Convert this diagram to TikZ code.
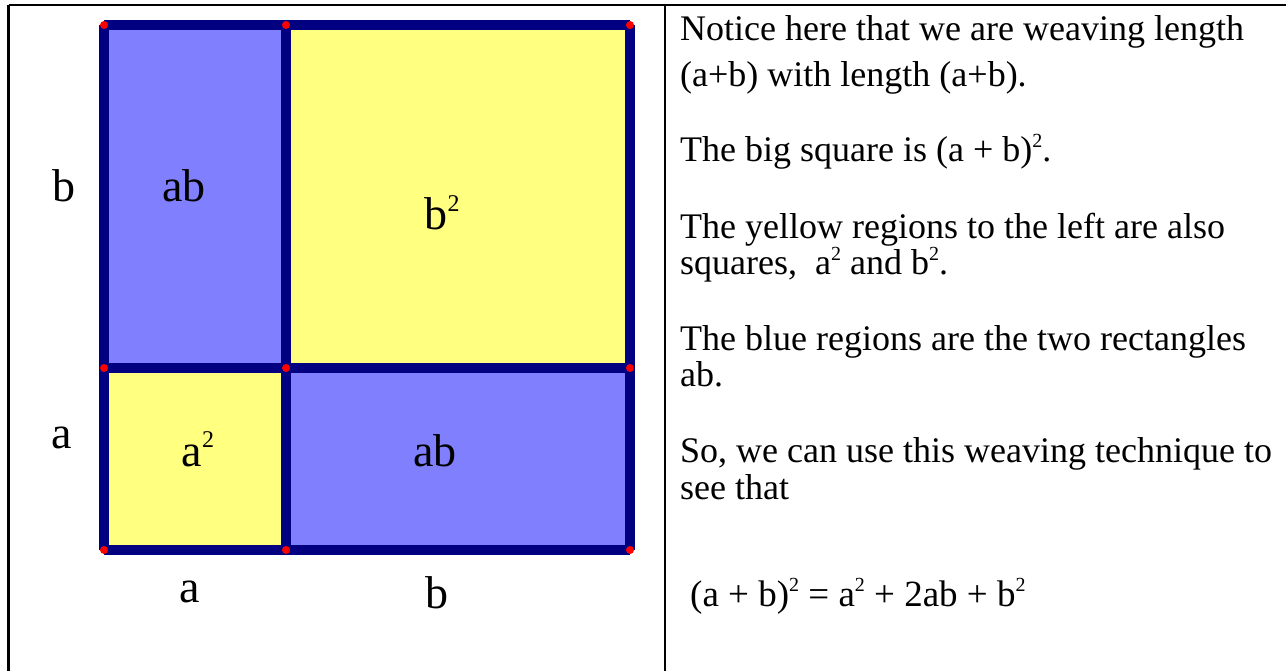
\documentclass[tikz,border=0pt]{standalone}
\usepackage{fontspec}
\setmainfont{Liberation Serif}
\definecolor{navyc}{HTML}{000080}
\definecolor{bluef}{HTML}{8080FF}
\definecolor{yellowf}{HTML}{FFFF80}
\newcommand{\lsq}{\raisebox{0.40em}{\fontsize{24}{24}\selectfont 2}}
\newcommand{\tsq}{\raisebox{0.40em}{\fontsize{20}{20}\selectfont 2}}
\begin{document}
\begin{tikzpicture}[x=1pt,y=-1pt,
  edge/.style={line width=10pt, draw=navyc},
  tbl/.style={line width=2.5pt, draw=black},
  lab/.style={font=\fontsize{46}{46}\selectfont, anchor=base, inner sep=0pt},
  txt/.style={font=\fontsize{36}{36}\selectfont, anchor=base west, inner sep=0pt},
  eqn/.style={font=\fontsize{37}{37}\selectfont, anchor=base west, inner sep=0pt},
  dotm/.style={circle, fill=red, draw=none, inner sep=0pt, minimum size=8pt}]
\useasboundingbox (0,0) rectangle (1286,671);
% table frame
\coordinate (tl) at (8.5,5);
\coordinate (tr) at (1286,5);
\coordinate (bl) at (8.5,671);
\coordinate (tm) at (665,5);
\coordinate (bm) at (665,671);
\draw[tbl] (tl) -- (tr);
\draw[tbl] (tl) -- (bl);
\draw[tbl] (tm) -- (bm);
% grid coordinates
\coordinate (p11) at (104,25);  \coordinate (p12) at (286,25);  \coordinate (p13) at (630,25);
\coordinate (p21) at (104,368); \coordinate (p22) at (286,368); \coordinate (p23) at (630,368);
\coordinate (p31) at (104,550); \coordinate (p32) at (286,550); \coordinate (p33) at (630,550);
% fills
\fill[bluef] (p11) rectangle (p22);
\fill[yellowf] (p12) rectangle (p23);
\fill[yellowf] (p21) rectangle (p32);
\fill[bluef] (p22) rectangle (p33);
% edges
\draw[edge] (p11) -- (p12);
\draw[edge] (p12) -- (p13);
\draw[edge] (p21) -- (p22);
\draw[edge] (p22) -- (p23);
\draw[edge] (p31) -- (p32);
\draw[edge] (p32) -- (p33);
\draw[edge] (p11) -- (p21);
\draw[edge] (p21) -- (p31);
\draw[edge] (p12) -- (p22);
\draw[edge] (p22) -- (p32);
\draw[edge] (p13) -- (p23);
\draw[edge] (p23) -- (p33);
% dots
\foreach \p in {p11,p12,p13,p21,p22,p23,p31,p32,p33}
  \node[dotm] (d\p) at (\p) {};
% labels
\node[lab] (lb) at (64,202) {b};
\node[lab] (lab1) at (184,202) {ab};
\node[lab] (lbb) at (442,230) {b\lsq};
\node[lab] (la) at (62,448) {a};
\node[lab] (laa) at (198,466) {a\lsq};
\node[lab] (lab2) at (435,466) {ab};
\node[lab] (lba) at (190,602) {a};
\node[lab] (lbbt) at (437,608) {b};
% text
\node[txt] (t1) at (680,41) {Notice here that we are weaving length};
\node[txt] (t2) at (680,87) {(a+b) with length (a+b).};
\node[txt] (t3) at (680,162) {The big square is (a + b)\tsq.};
\node[txt] (t4) at (680,239) {The yellow regions to the left are also};
\node[txt] (t5) at (680,275) {squares,\ \ a\tsq\ and b\tsq.};
\node[txt] (t6) at (680,350) {The blue regions are the two rectangles};
\node[txt] (t7) at (680,386) {ab.};
\node[txt] (t8) at (680,462) {So, we can use this weaving technique to};
\node[txt] (t9) at (680,499) {see that};
\node[eqn] (t10) at (690,606) {(a + b)\tsq\ = a\tsq\ + 2ab + b\tsq};
\end{tikzpicture}
\end{document}
